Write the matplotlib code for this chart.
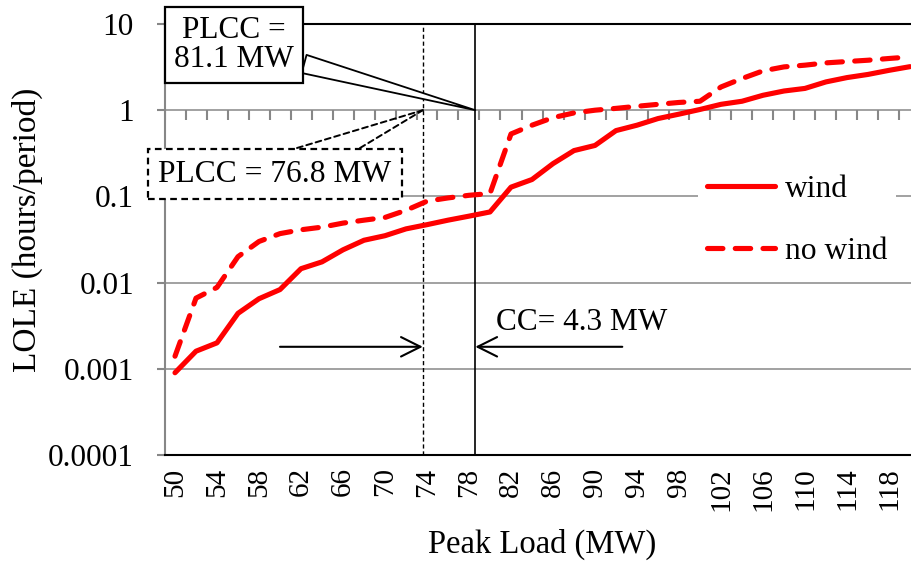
import numpy as np
import matplotlib
matplotlib.use("Agg")
import matplotlib.pyplot as plt
from matplotlib.ticker import FixedLocator, FixedFormatter, NullLocator

plt.rcParams['font.family'] = ['Liberation Serif', 'DejaVu Serif']

# peak load categories (MW)
peak_load = np.arange(50, 121, 2)

# loss of load expectation (hours/period)
lole_wind = [0.0009, 0.0016, 0.0020, 0.0044, 0.0065, 0.0083, 0.0145, 0.0174,
             0.024, 0.031, 0.035, 0.042, 0.047, 0.053, 0.059, 0.066,
             0.128, 0.157, 0.24, 0.34, 0.39, 0.58, 0.67, 0.80,
             0.90, 1.02, 1.17, 1.27, 1.49, 1.67, 1.79, 2.13,
             2.39, 2.6, 2.9, 3.2]
lole_no_wind = [0.0014, 0.0066, 0.0088, 0.020, 0.030, 0.037, 0.041, 0.044,
                0.049, 0.053, 0.057, 0.069, 0.088, 0.096, 0.103, 0.108,
                0.53, 0.67, 0.82, 0.93, 1.0, 1.05, 1.11, 1.17,
                1.23, 1.27, 1.86, 2.33, 2.86, 3.18, 3.33, 3.54,
                3.67, 3.8, 3.98, 4.15]

y_ticks = [0.0001, 0.001, 0.01, 0.1, 1, 10]
y_labels = ['0.0001', '0.001', '0.01', '0.1', '1', '10']

# where the PLCC markers sit on the load axis (MW)
plcc_no_wind_load = 73.6
plcc_wind_load = 78.6
target_lole = 1

grid_gray = '#878787'


def load_to_pos(load):
    # category axis: one slot per 2 MW step
    return (load - peak_load[0]) / 2.0


fig = plt.figure(figsize=(9.11, 5.69), dpi=100)
ax = fig.add_axes([164.5 / 911, 114 / 569, 756 / 911, 431 / 569])

pos = np.arange(len(peak_load))
ax.plot(pos, lole_wind, color='red', lw=3.7, solid_joinstyle='round',
        solid_capstyle='round', label='wind', zorder=4)
ax.plot(pos, lole_no_wind, color='red', lw=3.7, ls=(0, (3, 2.4)),
        dash_capstyle='round', dash_joinstyle='round', label='no wind', zorder=4)

ax.set_yscale('log')
ax.set_ylim(1e-4, 10)
ax.set_xlim(-0.5, len(pos) - 0.5)

ax.yaxis.set_major_locator(FixedLocator(y_ticks))
ax.yaxis.set_major_formatter(FixedFormatter(y_labels))
ax.yaxis.set_minor_locator(NullLocator())
ax.yaxis.grid(True, color=grid_gray, lw=1.1)
ax.set_axisbelow(True)

ax.set_xticks(pos[::2])
ax.set_xticklabels([str(v) for v in peak_load[::2]], rotation=90)
ax.tick_params(axis='x', length=0, pad=9, labelsize=21)
ax.tick_params(axis='y', length=6, width=1.5, color=grid_gray, pad=16, labelsize=22.5)

# category axis crosses at LOLE = 1, tick marks between categories
edges = np.arange(len(pos) + 1) - 0.5
ax.plot(edges, np.full(len(edges), target_lole), ls='none', marker=3, ms=7,
        mew=1.5, color=grid_gray, zorder=2)

ax.spines['left'].set_color(grid_gray)
ax.spines['left'].set_linewidth(1.5)
for side in ('top', 'bottom'):
    ax.spines[side].set_color('black')
    ax.spines[side].set_linewidth(1.5)
ax.spines['right'].set_visible(False)

# PLCC lines
x_nw = load_to_pos(plcc_no_wind_load)
x_w = load_to_pos(plcc_wind_load)
ax.axvline(x_nw, color='black', lw=1.0, ls=(0, (3, 2)), zorder=3)
ax.axvline(x_w, color='black', lw=1.2, zorder=3)

# callouts
ax.annotate('PLCC =\n81.1 MW', xy=(x_w, target_lole), xycoords='data',
            xytext=(234, 524), textcoords='figure pixels', ha='center', va='center',
            fontsize=22.5, linespacing=1.0, zorder=6, annotation_clip=False,
            bbox=dict(boxstyle='square,pad=0.3', fc='white', ec='black', lw=1.6),
            arrowprops=dict(arrowstyle='wedge,tail_width=0.6,shrink_factor=0.5',
                            fc='white', ec='black', lw=1.3, shrinkA=0, shrinkB=0))

for start in ((297, 421), (360, 421)):
    ax.annotate('', xy=(x_nw, target_lole), xycoords='data', xytext=start,
                textcoords='figure pixels', annotation_clip=False, zorder=6,
                arrowprops=dict(arrowstyle='-', ls=(0, (3, 2)), lw=1.4, color='black',
                                shrinkA=0, shrinkB=0))
ax.annotate('PLCC = 76.8 MW', xy=(275, 395), xycoords='figure pixels',
            ha='center', va='center', fontsize=22.7, zorder=7, annotation_clip=False,
            bbox=dict(boxstyle='square,pad=0.33', fc='white', ec='black', lw=1.6,
                      ls=(0, (3, 2))))

# capacity credit arrows
arrow_lole = 0.0018
arrow_style = dict(arrowstyle='->,head_length=0.7,head_width=0.35', lw=1.5,
                   color='black', shrinkA=0, shrinkB=0, mutation_scale=20)
ax.annotate('', xy=(x_nw, arrow_lole), xytext=(5, arrow_lole), arrowprops=arrow_style)
ax.annotate('', xy=(x_w, arrow_lole), xytext=(21.3, arrow_lole), arrowprops=arrow_style)
ax.text(15.3, 0.0034, 'CC= 4.3 MW', fontsize=22.5, va='center', ha='left')

leg = ax.legend(loc='center left', bbox_to_anchor=(0.766, 0.612),
                bbox_transform=fig.transFigure, fontsize=22.7, frameon=True,
                fancybox=False, edgecolor='none', facecolor='white', framealpha=1,
                handlelength=2.15, handletextpad=0.3, labelspacing=1.05,
                borderpad=0.3, borderaxespad=0)
leg.set_zorder(8)

ax.set_ylabel('LOLE (hours/period)', fontsize=24)
ax.yaxis.set_label_coords(-0.161, 0.522)
ax.set_xlabel('Peak Load (MW)', fontsize=23.5)
ax.xaxis.set_label_coords(0.5, -0.172)

fig.savefig('out.png', dpi=100)
